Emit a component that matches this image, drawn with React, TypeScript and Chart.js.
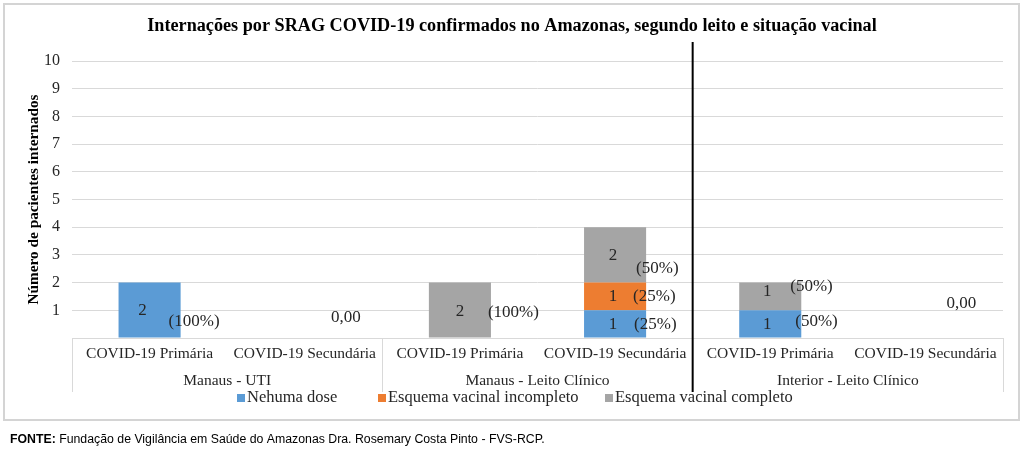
import React, { useEffect, useRef } from "react";
import { Chart, registerables } from "chart.js";

Chart.register(...registerables);

const chartTitle = "Internações por SRAG COVID-19 confirmados no Amazonas, segundo leito e situação vacinal";
const yAxisTitle = "Número de pacientes internados";
const categories = [
  "COVID-19 Primária", "COVID-19 Secundária",
  "COVID-19 Primária", "COVID-19 Secundária",
  "COVID-19 Primária", "COVID-19 Secundária",
];
const groups = ["Manaus - UTI", "Manaus - Leito Clínico", "Interior - Leito Clínico"];
const seriesNames = ["Nehuma dose", "Esquema vacinal incompleto", "Esquema vacinal completo"];
const nenhumaDose = [2, 0, 0, 1, 1, 0];
const vacinalIncompleto = [0, 0, 0, 1, 0, 0];
const vacinalCompleto = [0, 0, 2, 2, 1, 0];
const zeroLabel = "0,00";
const footerBold = "FONTE:";
const footerText = " Fundação de Vigilância em Saúde do Amazonas Dra. Rosemary Costa Pinto - FVS-RCP.";

const COLORS = ["#5B9BD5", "#ED7D31", "#A5A5A5"];
const SERIF = '"Liberation Serif", "Times New Roman", serif';
const SANS = '"Liberation Sans", Arial, sans-serif';

// label placement tweaks: key "dataset-index" => [dxValue, dyValue, dxPctFromBarRight, dyPct]
const labelTweaks: Record<string, number[]> = {
  "0-0": [-7, 0, -12, 11],
  "2-2": [0, 1, -3, 2],
  "0-3": [-2, 1, -12, 1],
  "1-3": [-2, 0, -13, 0],
  "2-3": [-2, 1, -10, 14],
  "0-4": [-3, 1, -6, -2],
  "2-4": [-3, -5, -11, -10],
};
const zeroTweaks: Record<number, number[]> = { 1: [41, 318], 5: [36, 304] };

const decorPlugin = {
  id: "decor",
  afterDatasetsDraw(chart: any) {
    const ctx = chart.ctx;
    const datasets = chart.data.datasets;
    const n = categories.length;
    ctx.save();
    ctx.fillStyle = "#262626";
    ctx.font = `17px ${SERIF}`;
    ctx.textBaseline = "middle";
    for (let i = 0; i < n; i++) {
      let total = 0;
      datasets.forEach((d: any) => (total += d.data[i]));
      if (total === 0) {
        const xs = chart.scales.x.getPixelForValue(i);
        const t = zeroTweaks[i] || [30, 310];
        ctx.textAlign = "center";
        ctx.fillText(zeroLabel, xs + t[0], t[1]);
        continue;
      }
      datasets.forEach((d: any, di: number) => {
        const v = d.data[i];
        if (!v) return;
        const el = chart.getDatasetMeta(di).data[i];
        const mid = (el.y + el.base) / 2;
        const right = el.x + el.width / 2;
        const t = labelTweaks[`${di}-${i}`] || [0, 0, -10, 0];
        ctx.textAlign = "center";
        ctx.fillText(String(v), el.x + t[0], mid + t[1]);
        ctx.textAlign = "left";
        ctx.fillText(`(${Math.round((v / total) * 100)}%)`, right + t[2], mid + t[3]);
      });
    }
    ctx.restore();
  },
  afterDraw(chart: any) {
    const ctx = chart.ctx;
    const area = chart.chartArea;
    const xs = chart.scales.x;
    ctx.save();
    // outer border
    ctx.strokeStyle = "#d4d4d4";
    ctx.lineWidth = 2;
    ctx.strokeRect(4, 4, 1015, 416);

    // title
    ctx.fillStyle = "#000";
    ctx.font = `bold 18.2px ${SERIF}`;
    ctx.textAlign = "center";
    ctx.textBaseline = "middle";
    ctx.fillText(chartTitle, 512, 26);

    // y title
    ctx.save();
    ctx.translate(34, (area.top + area.bottom) / 2);
    ctx.rotate(-Math.PI / 2);
    ctx.font = `bold 15.3px ${SERIF}`;
    ctx.fillText(yAxisTitle, 0, 0);
    ctx.restore();

    // category table
    const n = categories.length;
    const step = xs.getPixelForValue(1) - xs.getPixelForValue(0);
    const bottom = 392;
    ctx.strokeStyle = "#d9d9d9";
    ctx.lineWidth = 1;
    ctx.beginPath();
    ctx.moveTo(area.left, area.bottom + 0.5);
    ctx.lineTo(area.right, area.bottom + 0.5);
    for (let g = 0; g <= groups.length; g++) {
      const x = Math.round(area.left + step * 2 * g) + 0.5;
      if (g === 2) continue;
      ctx.moveTo(x, area.bottom);
      ctx.lineTo(x, bottom);
    }
    ctx.stroke();

    ctx.fillStyle = "#262626";
    ctx.font = `15.5px ${SERIF}`;
    ctx.textAlign = "center";
    for (let i = 0; i < n; i++) {
      ctx.fillText(categories[i], xs.getPixelForValue(i), 354);
    }
    groups.forEach((g, gi) => {
      const cx = (xs.getPixelForValue(gi * 2) + xs.getPixelForValue(gi * 2 + 1)) / 2;
      ctx.fillText(g, cx, 381);
    });

    // black separator
    const sep = area.left + step * 4;
    ctx.strokeStyle = "#000";
    ctx.lineWidth = 2;
    ctx.beginPath();
    ctx.moveTo(sep, 42);
    ctx.lineTo(sep, bottom);
    ctx.stroke();

    // legend
    const legendX = [237, 378, 605];
    ctx.font = `16.5px ${SERIF}`;
    ctx.textAlign = "left";
    seriesNames.forEach((s, i) => {
      ctx.fillStyle = COLORS[i];
      ctx.fillRect(legendX[i], 394, 8, 8);
      ctx.fillStyle = "#262626";
      ctx.fillText(s, legendX[i] + 10, 398);
    });

    // footer
    ctx.fillStyle = "#000";
    ctx.font = `bold 12.3px ${SANS}`;
    ctx.fillText(footerBold, 10, 440);
    const w = ctx.measureText(footerBold).width;
    ctx.font = `12.3px ${SANS}`;
    ctx.fillText(footerText, 10 + w, 440);
    ctx.restore();
  },
};

export default function App() {
  const ref = useRef<HTMLCanvasElement>(null);
  useEffect(() => {
    if (!ref.current) return;
    const chart = new Chart(ref.current, {
      type: "bar",
      data: {
        labels: categories,
        datasets: [
          { label: seriesNames[0], data: nenhumaDose, backgroundColor: COLORS[0] },
          { label: seriesNames[1], data: vacinalIncompleto, backgroundColor: COLORS[1] },
          { label: seriesNames[2], data: vacinalCompleto, backgroundColor: COLORS[2] },
        ],
      },
      options: {
        responsive: false,
        animation: false,
        devicePixelRatio: 1,
        layout: { padding: { top: 61, right: 21, bottom: 115, left: 0 } },
        datasets: { bar: { categoryPercentage: 1, barPercentage: 0.4, borderWidth: 0 } },
        plugins: { legend: { display: false }, title: { display: false }, tooltip: { enabled: false } },
        scales: {
          x: { display: false, stacked: true },
          y: {
            stacked: true,
            min: 0,
            max: 10,
            ticks: {
              stepSize: 1,
              padding: 12,
              color: "#262626",
              font: { family: SERIF, size: 16 },
              callback: (v: any) => (v === 0 ? "" : String(v)),
            },
            grid: { color: "#d9d9d9", drawTicks: false },
            border: { display: false },
            afterFit: (s: any) => {
              s.width = 72;
            },
          },
        },
      },
      plugins: [decorPlugin],
    } as any);
    return () => chart.destroy();
  }, []);
  return (
    <div style={{ position: "fixed", left: 0, top: 0, width: 1024, height: 453, background: "#fff" }}>
      <canvas ref={ref} width={1024} height={453} />
    </div>
  );
}
